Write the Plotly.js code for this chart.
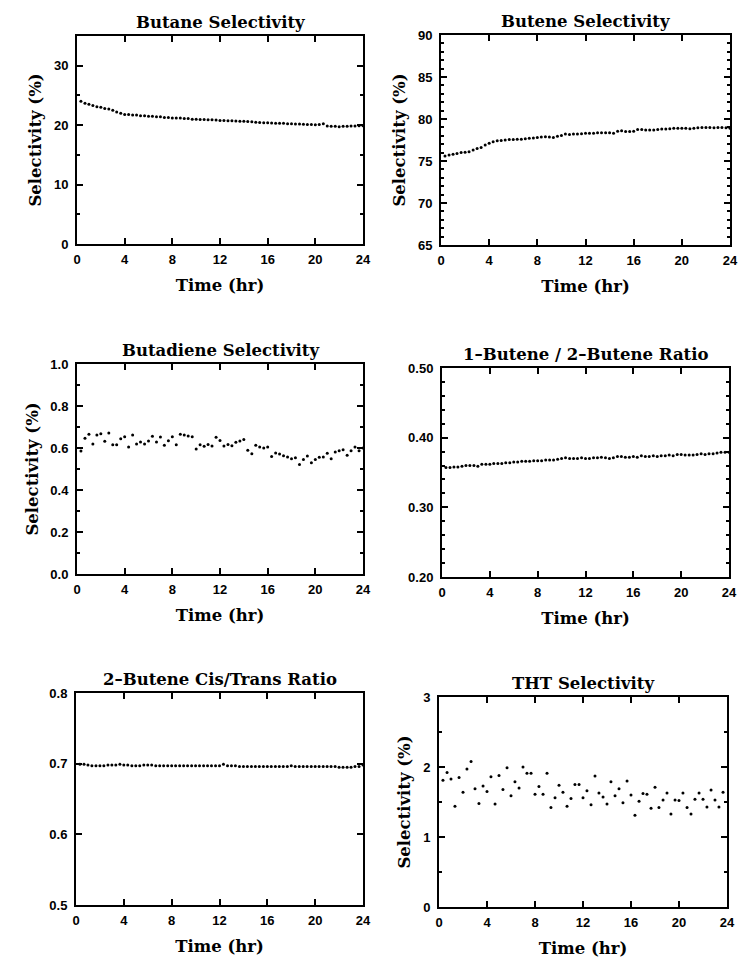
<!DOCTYPE html>
<html>
<head>
<meta charset="utf-8">
<script src="https://cdn.plot.ly/plotly-3.0.1.min.js"></script>
<style>html,body{margin:0;padding:0;background:#fff;}#chart{width:739px;height:959px;}</style>
</head>
<body>
<div id="chart"></div>
<script>
// Sampling times (hr), every 20 minutes
const time = [0.33,0.67,1.00,1.33,1.67,2.00,2.33,2.67,3.00,3.33,3.67,4.00,4.33,4.67,5.00,5.33,5.67,6.00,6.33,6.67,7.00,7.33,7.67,8.00,8.33,8.67,9.00,9.33,9.67,10.00,10.33,10.67,11.00,11.33,11.67,12.00,12.33,12.67,13.00,13.33,13.67,14.00,14.33,14.67,15.00,15.33,15.67,16.00,16.33,16.67,17.00,17.33,17.67,18.00,18.33,18.67,19.00,19.33,19.67,20.00,20.33,20.67,21.00,21.33,21.67,22.00,22.33,22.67,23.00,23.33,23.67,24.00];

const butane = [24.0,23.7,23.5,23.3,23.1,23.0,22.8,22.7,22.5,22.2,22.0,21.8,21.8,21.7,21.7,21.6,21.6,21.5,21.5,21.4,21.4,21.3,21.3,21.2,21.2,21.2,21.1,21.1,21.0,21.0,20.95,20.95,20.9,20.9,20.85,20.8,20.8,20.75,20.75,20.7,20.65,20.65,20.6,20.55,20.5,20.45,20.4,20.4,20.35,20.3,20.3,20.3,20.25,20.25,20.2,20.2,20.15,20.1,20.1,20.05,20.1,20.25,19.85,19.8,19.8,19.75,19.8,19.8,19.85,19.85,19.9,19.9];

const butene = [75.6,75.7,75.8,75.9,76.0,76.05,76.1,76.3,76.5,76.6,76.9,77.1,77.3,77.4,77.45,77.5,77.55,77.55,77.6,77.6,77.65,77.7,77.75,77.8,77.85,77.9,77.85,77.8,77.95,78.05,78.2,78.15,78.2,78.2,78.25,78.3,78.3,78.3,78.35,78.35,78.35,78.35,78.3,78.55,78.6,78.5,78.5,78.55,78.75,78.75,78.7,78.7,78.7,78.75,78.8,78.8,78.85,78.9,78.9,78.9,78.9,78.85,78.9,78.95,79.0,79.0,79.0,78.95,79.0,79.0,78.95,78.9];

const butadiene = [0.586,0.646,0.665,0.619,0.662,0.668,0.632,0.671,0.616,0.616,0.644,0.654,0.605,0.662,0.619,0.629,0.619,0.633,0.656,0.629,0.652,0.613,0.635,0.654,0.616,0.665,0.662,0.657,0.654,0.595,0.616,0.608,0.617,0.610,0.651,0.636,0.609,0.617,0.611,0.627,0.633,0.640,0.589,0.573,0.613,0.605,0.600,0.605,0.560,0.576,0.571,0.563,0.557,0.549,0.554,0.521,0.545,0.562,0.530,0.545,0.556,0.557,0.575,0.549,0.581,0.587,0.592,0.565,0.587,0.605,0.587,0.600];

const ratio12 = [0.357,0.357,0.358,0.358,0.359,0.360,0.360,0.360,0.359,0.362,0.362,0.362,0.363,0.363,0.363,0.364,0.364,0.365,0.365,0.366,0.366,0.366,0.367,0.367,0.367,0.368,0.368,0.368,0.369,0.370,0.371,0.370,0.370,0.370,0.371,0.370,0.370,0.371,0.371,0.372,0.371,0.370,0.371,0.373,0.373,0.372,0.372,0.373,0.372,0.374,0.373,0.373,0.374,0.373,0.374,0.374,0.375,0.374,0.376,0.376,0.375,0.375,0.375,0.376,0.377,0.376,0.377,0.377,0.378,0.379,0.379,0.379];

const cisTrans = [0.699,0.699,0.698,0.697,0.697,0.697,0.697,0.698,0.698,0.698,0.699,0.698,0.698,0.697,0.697,0.697,0.698,0.698,0.698,0.697,0.697,0.697,0.697,0.697,0.697,0.697,0.697,0.697,0.697,0.697,0.697,0.697,0.697,0.697,0.697,0.697,0.699,0.697,0.697,0.697,0.696,0.696,0.696,0.696,0.696,0.696,0.696,0.696,0.696,0.696,0.696,0.696,0.696,0.697,0.696,0.696,0.696,0.696,0.696,0.696,0.696,0.696,0.696,0.696,0.696,0.695,0.695,0.695,0.695,0.696,0.696,0.698];

const tht = [1.81,1.92,1.83,1.44,1.85,1.64,1.97,2.08,1.69,1.48,1.73,1.65,1.86,1.47,1.88,1.68,1.99,1.59,1.79,1.70,2.00,1.91,1.91,1.61,1.72,1.61,1.91,1.42,1.56,1.74,1.64,1.44,1.55,1.75,1.75,1.56,1.66,1.46,1.87,1.63,1.57,1.47,1.79,1.59,1.69,1.49,1.80,1.60,1.31,1.51,1.62,1.61,1.41,1.71,1.42,1.53,1.63,1.33,1.53,1.52,1.63,1.42,1.33,1.54,1.63,1.54,1.43,1.67,1.53,1.43,1.64];

const titles = ["Butane Selectivity","Butene Selectivity","Butadiene Selectivity","1\u2013Butene / 2\u2013Butene Ratio","2\u2013Butene Cis/Trans Ratio","THT Selectivity"];
const yTitles = ["Selectivity (%)","Selectivity (%)","Selectivity (%)","","","Selectivity (%)"];
const xTitle = "Time (hr)";
const xTicks = [0,4,8,12,16,20,24];

const series = [butane, butene, butadiene, ratio12, cisTrans, tht];

// layout geometry (pixels)
const W = 739, H = 959;
const boxes = [
  {l:77,r:363,t:36,b:244, yr:[0,35], dt:10, minor:5, fmt:"d"},
  {l:441,r:730,t:35,b:245, yr:[65,90], dt:5, minor:1, fmt:"d"},
  {l:77,r:363,t:364,b:574, yr:[0,1], dt:0.2, minor:0.1, fmt:".1f"},
  {l:442,r:729,t:368,b:577, yr:[0.2,0.5], dt:0.1, minor:0.02, fmt:".2f"},
  {l:76,r:363,t:693,b:905, yr:[0.5,0.8], dt:0.1, minor:null, fmt:".1f"},
  {l:439,r:727,t:697,b:907, yr:[0,3], dt:1, minor:0.5, fmt:"d"}
];

const tickFont = {family:"Liberation Sans, Arial, sans-serif", size:13, color:"#000", weight:700};
const titleFont = {family:"DejaVu Serif, serif", size:16.5, color:"#000", weight:700};
const axTitleFont = {family:"DejaVu Serif, serif", size:16.5, color:"#000", weight:700};

const data = [];
const layout = {
  width: W, height: H,
  margin: {l:0,r:0,t:0,b:0},
  paper_bgcolor:"#fff", plot_bgcolor:"#fff",
  showlegend:false,
  annotations: []
};

boxes.forEach((b, i) => {
  const n = i + 1;
  const xd = [b.l / W, b.r / W];
  const yd = [1 - b.b / H, 1 - b.t / H];
  const xs = n === 1 ? "" : n;
  data.push({
    x: time, y: series[i], type: "scatter", mode: "markers",
    marker: {color: "#000", size: 3},
    xaxis: "x" + xs, yaxis: "y" + xs, hoverinfo: "skip"
  });

  layout["xaxis" + xs] = {
    domain: xd, anchor: "y" + xs, range: [0, 24], tickvals: xTicks,
    showline: true, linecolor: "#000", linewidth: 2, mirror: "ticks",
    ticks: "inside", ticklen: 6, tickwidth: 2, tickcolor: "#000",
    showgrid: false, zeroline: false, tickfont: tickFont, ticklabelstandoff: 2,
    title: {text: xTitle, font: axTitleFont, standoff: 14}
  };
  const ya = {
    domain: yd, anchor: "x" + xs, range: b.yr, dtick: b.dt, tick0: b.yr[0],
    showline: true, linecolor: "#000", linewidth: 2, mirror: "ticks",
    ticks: "inside", ticklen: 6, tickwidth: 2, tickcolor: "#000",
    showgrid: false, zeroline: false, tickfont: tickFont, tickformat: b.fmt, ticklabelstandoff: 4,
    title: {text: yTitles[i], font: axTitleFont, standoff: 8}
  };
  if (b.minor) ya.minor = {dtick: b.minor, tick0: b.yr[0], ticks: "inside", ticklen: 3, tickwidth: 2, tickcolor: "#000", showgrid: false};
  layout["yaxis" + xs] = ya;

  layout.annotations.push({
    text: titles[i], xref: "paper", yref: "paper",
    x: (xd[0] + xd[1]) / 2, y: yd[1], xanchor: "center", yanchor: "bottom", yshift: 2,
    showarrow: false, font: titleFont
  });
});

Plotly.newPlot("chart", data, layout, {staticPlot: true, displayModeBar: false});
</script>
</body>
</html>
